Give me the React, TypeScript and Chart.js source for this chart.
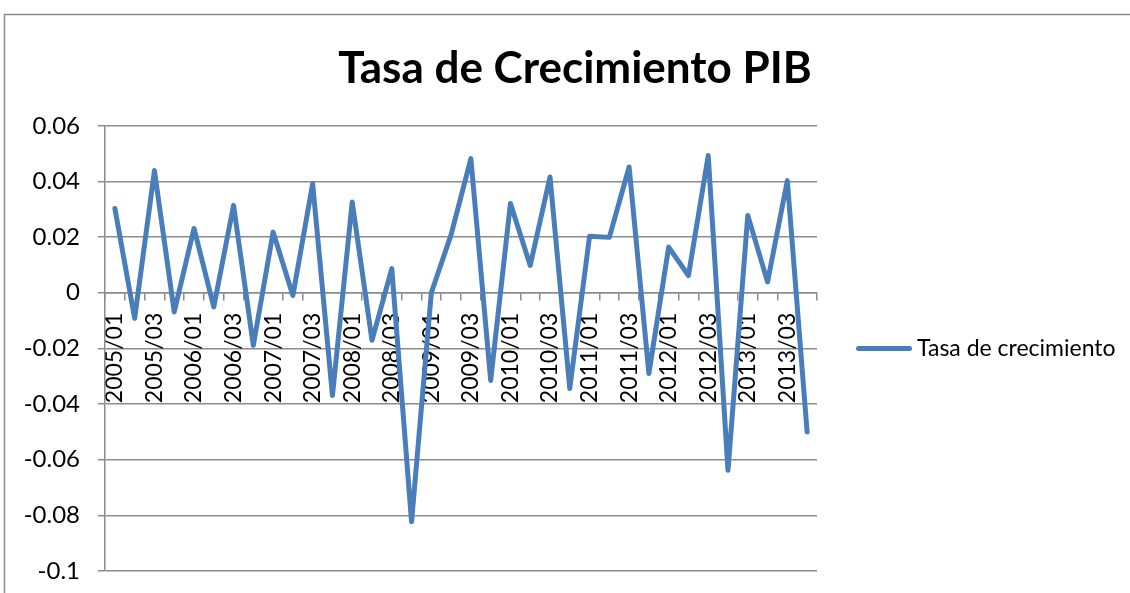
import React, { useEffect, useRef } from 'react';
import { Chart, registerables } from 'chart.js';

Chart.register(...registerables);

// ---- data ----
const categories: string[] = [
  '2005/01', '2005/02', '2005/03', '2005/04',
  '2006/01', '2006/02', '2006/03', '2006/04',
  '2007/01', '2007/02', '2007/03', '2007/04',
  '2008/01', '2008/02', '2008/03', '2008/04',
  '2009/01', '2009/02', '2009/03', '2009/04',
  '2010/01', '2010/02', '2010/03', '2010/04',
  '2011/01', '2011/02', '2011/03', '2011/04',
  '2012/01', '2012/02', '2012/03', '2012/04',
  '2013/01', '2013/02', '2013/03', '2013/04',
];

const growthValues: number[] = [
  0.0303, -0.0092, 0.0439, -0.0069,
  0.0231, -0.0051, 0.0314, -0.0189,
  0.0218, -0.0010, 0.0392, -0.0369,
  0.0326, -0.0171, 0.0087, -0.0823,
  0.0000, 0.0209, 0.0482, -0.0315,
  0.0321, 0.0098, 0.0416, -0.0344,
  0.0203, 0.0199, 0.0452, -0.0290,
  0.0164, 0.0062, 0.0493, -0.0638,
  0.0278, 0.0039, 0.0403, -0.0500,
];

const seriesLabel = 'Tasa de crecimiento';
const chartTitle = 'Tasa de Crecimiento PIB';
const yMin = -0.1;
const yMax = 0.06;
const yStep = 0.02;

// ---- layout / style ----
const CANVAS_W = 1150;
const CANVAS_H = 593;
const Y_AXIS_W = 105;
const RIGHT_SPACE = 333;
const FONT = 'Lato, "Open Sans", sans-serif';
const X_TICK_SIZE = 23;
const Y_TICK_SIZE = 24;
const LEGEND_SIZE = 23;
const LEGEND_GAP = 41.5;
const LEGEND_LINE = 51;
const LEGEND_TEXT_GAP = 7.5;
const GRID_COLOR = '#8c8c8c';
const LINE_COLOR = '#4a7ebb';

const framePlugin = {
  id: 'excelFrame',
  beforeDraw(chart: any) {
    const { ctx } = chart;
    ctx.save();
    ctx.fillStyle = '#ffffff';
    ctx.fillRect(0, 0, chart.width, chart.height);
    ctx.strokeStyle = '#8a8a8a';
    ctx.lineWidth = 1.5;
    ctx.strokeRect(4.5, 14.5, chart.width + 40, chart.height + 40);
    ctx.restore();
  },
};

// legend drawn beside the plot, from the dataset's own label and style
const sideLegendPlugin = {
  id: 'sideLegend',
  afterDraw(chart: any) {
    const { ctx, chartArea } = chart;
    const ds = chart.data.datasets[0];
    const cy = (chartArea.top + chartArea.bottom) / 2;
    const x0 = chartArea.right + LEGEND_GAP;
    ctx.save();
    ctx.strokeStyle = ds.borderColor;
    ctx.lineWidth = ds.borderWidth;
    ctx.lineCap = 'round';
    ctx.beginPath();
    ctx.moveTo(x0, cy);
    ctx.lineTo(x0 + LEGEND_LINE, cy);
    ctx.stroke();
    ctx.fillStyle = '#000000';
    ctx.font = `${LEGEND_SIZE}px ${FONT}`;
    ctx.textAlign = 'left';
    ctx.textBaseline = 'middle';
    ctx.fillText(ds.label, x0 + LEGEND_LINE + LEGEND_TEXT_GAP, cy);
    ctx.restore();
  },
};

export default function App() {
  const canvasRef = useRef<HTMLCanvasElement | null>(null);

  useEffect(() => {
    const canvas = canvasRef.current;
    if (!canvas) return;

    const chart = new Chart(canvas, {
      type: 'line',
      data: {
        labels: categories,
        datasets: [
          {
            label: seriesLabel,
            data: growthValues,
            borderColor: LINE_COLOR,
            backgroundColor: LINE_COLOR,
            borderWidth: 5,
            pointRadius: 0,
            pointHoverRadius: 0,
            tension: 0,
            borderJoinStyle: 'round',
            borderCapStyle: 'round',
            fill: false,
            yAxisID: 'y',
          },
        ],
      },
      options: {
        responsive: false,
        animation: false,
        devicePixelRatio: 1,
        layout: {
          padding: { left: 0, right: 0, top: 0, bottom: 22 },
        },
        plugins: {
          title: {
            display: true,
            text: chartTitle,
            color: '#000000',
            font: { family: FONT, size: 44, weight: 'bold' },
            padding: { top: 42, bottom: 31 },
          },
          legend: { display: false },
          tooltip: { enabled: false },
        },
        scales: {
          x: {
            type: 'category',
            position: { y: 0 } as any,
            offset: true,
            grid: {
              display: true,
              offset: true,
              drawOnChartArea: false,
              drawTicks: true,
              tickLength: 7,
              color: GRID_COLOR,
              lineWidth: 1.5,
            },
            border: { display: true, color: GRID_COLOR, width: 1.5 },
            ticks: {
              autoSkip: false,
              maxRotation: 90,
              minRotation: 90,
              padding: 13,
              color: '#000000',
              font: { family: FONT, size: X_TICK_SIZE },
              callback: (_v: any, i: number) => (i % 2 === 0 ? categories[i] : ''),
            },
          },
          y: {
            type: 'linear',
            position: 'left',
            min: yMin,
            max: yMax,
            afterFit: (scale: any) => {
              scale.width = Y_AXIS_W;
              scale.paddingTop = 0;
              scale.paddingBottom = 0;
            },
            grid: {
              display: true,
              drawOnChartArea: true,
              drawTicks: true,
              tickLength: 7,
              color: GRID_COLOR,
              lineWidth: 1.5,
            },
            border: { display: true, color: GRID_COLOR, width: 1.5 },
            ticks: {
              stepSize: yStep,
              padding: 18,
              color: '#000000',
              font: { family: FONT, size: Y_TICK_SIZE },
              callback: (v: any) => String(Number(Number(v).toFixed(2))),
            },
          },
          legendSpace: {
            type: 'linear',
            position: 'right',
            display: true,
            afterFit: (scale: any) => {
              scale.width = RIGHT_SPACE;
              scale.paddingTop = 0;
              scale.paddingBottom = 0;
            },
            grid: { display: false, drawOnChartArea: false, drawTicks: false },
            border: { display: false },
            ticks: { display: false },
          },
        },
      },
      plugins: [framePlugin, sideLegendPlugin],
    });

    return () => chart.destroy();
  }, []);

  return (
    <div
      style={{
        position: 'fixed',
        left: 0,
        top: 0,
        width: 1130,
        height: 593,
        overflow: 'hidden',
        background: '#ffffff',
      }}
    >
      <canvas
        ref={canvasRef}
        width={CANVAS_W}
        height={CANVAS_H}
        style={{ display: 'block', width: CANVAS_W, height: CANVAS_H }}
      />
    </div>
  );
}
